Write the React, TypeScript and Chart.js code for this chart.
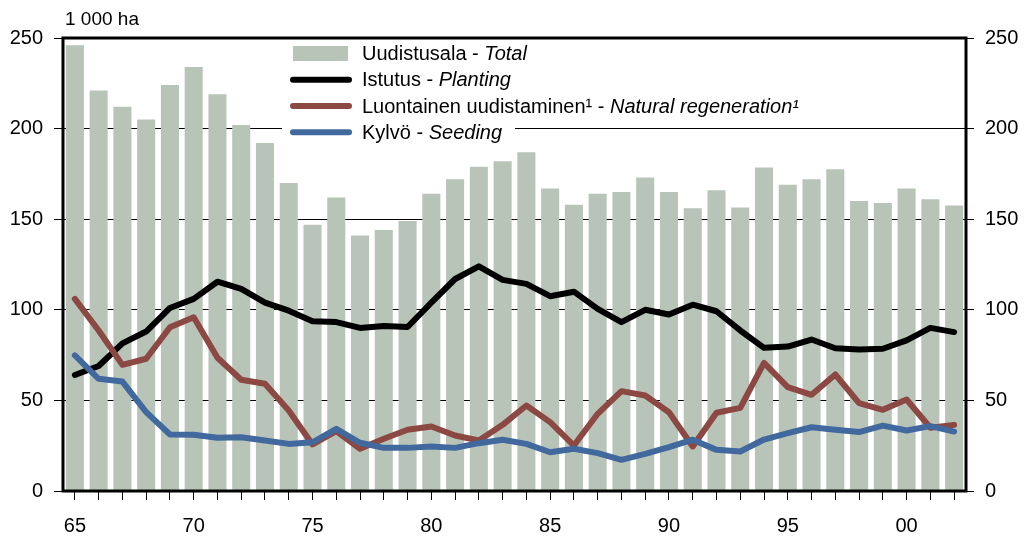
import React, { useEffect, useRef } from "react";
import { Chart, registerables } from "chart.js";

Chart.register(...registerables);

const years = [
  "65","66","67","68","69","70","71","72","73","74",
  "75","76","77","78","79","80","81","82","83","84",
  "85","86","87","88","89","90","91","92","93","94",
  "95","96","97","98","99","00","01","02",
];

const totalArea = [
  246, 221, 212, 205, 224, 234, 219, 202, 192, 170,
  147, 162, 141, 144, 149, 164, 172, 179, 182, 187,
  167, 158, 164, 165, 173, 165, 156, 166, 156.5, 178.5,
  169, 172, 177.5, 160, 159, 167, 161, 157.5,
];

const planting = [
  64, 69, 81.5, 88, 101, 106, 115.5, 111.5, 104, 99.5,
  93.7, 93.2, 90, 91, 90.5, 104, 117, 124, 116.5, 114.3,
  107.5, 110, 100.5, 93.2, 100, 97.4, 102.8, 99.2, 88.6, 79,
  79.7, 83.6, 78.8, 78.1, 78.5, 83.1, 90, 87.7,
];

const natural = [
  106, 88.6, 69.6, 73, 90.4, 95.9, 73.5, 61.4, 59.2, 44.4,
  25.7, 33, 23.3, 28.8, 33.8, 35.6, 30.6, 27.9, 36.5, 47.2,
  38, 25.1, 42.6, 55.1, 52.7, 43.5, 24.6, 43.2, 45.9, 70.7,
  57.3, 53.1, 64.3, 48.5, 44.8, 50.5, 34.9, 36.5,
];

const seeding = [
  74.8, 61.9, 60.4, 43.5, 31.2, 31, 29.4, 29.7, 27.9, 26,
  26.9, 34.3, 26.6, 23.8, 23.8, 24.6, 23.8, 26.4, 28.3, 26,
  21.4, 23.3, 20.9, 17.2, 20.5, 24.2, 28.3, 22.7, 21.8, 28.4,
  31.9, 35.2, 33.8, 32.5, 36.1, 33.4, 35.8, 32.8,
];

const yTicks = [0, 50, 100, 150, 200, 250];

const unitLabel = "1 000 ha";
const legendItems = [
  { fi: "Uudistusala - ", en: "Total", kind: "bar", color: "#B9C4B8" },
  { fi: "Istutus - ", en: "Planting", kind: "line", color: "#000000" },
  { fi: "Luontainen uudistaminen¹ - ", en: "Natural regeneration¹", kind: "line", color: "#8C4842" },
  { fi: "Kylvö - ", en: "Seeding", kind: "line", color: "#41699E" },
];

const FONT = "'Liberation Sans', Arial, sans-serif";

const decorPlugin = {
  id: "decor",
  beforeDatasetsDraw(chart: any) {
    const ctx = chart.ctx;
    ctx.save();
    ctx.fillStyle = "#ffffff";
    ctx.fillRect(282, 40, 233, 100);
    ctx.restore();
  },
  afterDraw(chart: any) {
    const ctx = chart.ctx;
    const a = chart.chartArea;
    ctx.save();
    // frame
    ctx.strokeStyle = "#000";
    ctx.lineWidth = 3;
    ctx.strokeRect(a.left, a.top, a.right - a.left, a.bottom - a.top);
    // unit label
    ctx.fillStyle = "#000";
    ctx.font = `19px ${FONT}`;
    ctx.textBaseline = "alphabetic";
    ctx.textAlign = "left";
    ctx.fillText(unitLabel, 65, 25);
    // legend
    const rowY = [53.5, 79.7, 106, 132.3];
    legendItems.forEach((it, i) => {
      const cy = rowY[i];
      if (it.kind === "bar") {
        ctx.fillStyle = it.color;
        ctx.fillRect(293, cy - 7.5, 55, 15);
      } else {
        ctx.strokeStyle = it.color;
        ctx.lineWidth = 6;
        ctx.lineCap = "round";
        ctx.beginPath();
        ctx.moveTo(293, cy);
        ctx.lineTo(349, cy);
        ctx.stroke();
      }
      ctx.fillStyle = "#000";
      ctx.textBaseline = "middle";
      ctx.font = `20px ${FONT}`;
      ctx.fillText(it.fi, 362, cy + 1);
      const w = ctx.measureText(it.fi).width;
      ctx.font = `italic 20px ${FONT}`;
      ctx.fillText(it.en, 362 + w, cy + 1);
    });
    ctx.restore();
  },
};

export default function App() {
  const ref = useRef<HTMLCanvasElement | null>(null);

  useEffect(() => {
    if (!ref.current) return;
    const chart = new Chart(ref.current, {
      type: "bar",
      data: {
        labels: years,
        datasets: [
          {
            type: "bar",
            label: "Uudistusala - Total",
            data: totalArea,
            backgroundColor: "#B9C4B8",
            barPercentage: 0.76,
            categoryPercentage: 1,
            order: 4,
            yAxisID: "y",
          },
          {
            type: "line",
            label: "Istutus - Planting",
            data: planting,
            borderColor: "#000000",
            borderWidth: 6,
            pointRadius: 0,
            tension: 0,
            borderJoinStyle: "round",
            borderCapStyle: "round",
            order: 3,
            yAxisID: "y",
          },
          {
            type: "line",
            label: "Luontainen uudistaminen¹ - Natural regeneration¹",
            data: natural,
            borderColor: "#8C4842",
            borderWidth: 6,
            pointRadius: 0,
            tension: 0,
            borderJoinStyle: "round",
            borderCapStyle: "round",
            order: 2,
            yAxisID: "y",
          },
          {
            type: "line",
            label: "Kylvö - Seeding",
            data: seeding,
            borderColor: "#41699E",
            borderWidth: 6,
            pointRadius: 0,
            tension: 0,
            borderJoinStyle: "round",
            borderCapStyle: "round",
            order: 1,
            yAxisID: "y",
          },
        ],
      },
      options: {
        responsive: false,
        animation: false,
        devicePixelRatio: 1,
        layout: { padding: { top: 38, left: 0, right: 0, bottom: 0 } },
        plugins: {
          legend: { display: false },
          tooltip: { enabled: false },
        },
        scales: {
          x: {
            type: "category",
            offset: true,
            grid: {
              offset: false,
              drawOnChartArea: false,
              drawTicks: true,
              tickLength: 9,
              color: "#000",
              tickColor: "#000",
            },
            border: { display: false },
            ticks: {
              autoSkip: false,
              maxRotation: 0,
              minRotation: 0,
              padding: 14,
              color: "#000",
              font: { family: FONT, size: 20 },
              callback: (_v: any, i: number) => (i % 5 === 0 ? years[i] : ""),
            },
            afterFit: (s: any) => {
              s.height = 50;
            },
          },
          y: {
            position: "left",
            min: 0,
            max: 250,
            afterBuildTicks: (s: any) => {
              s.ticks = yTicks.map((v) => ({ value: v }));
            },
            grid: {
              color: "#000",
              lineWidth: 1,
              drawTicks: true,
              tickLength: 9,
              tickColor: "#000",
            },
            border: { display: false },
            ticks: {
              padding: 11,
              color: "#000",
              font: { family: FONT, size: 20 },
            },
            afterFit: (s: any) => {
              s.width = 63;
            },
          },
          y2: {
            position: "right",
            min: 0,
            max: 250,
            afterBuildTicks: (s: any) => {
              s.ticks = yTicks.map((v) => ({ value: v }));
            },
            grid: {
              drawOnChartArea: false,
              drawTicks: true,
              tickLength: 8,
              tickColor: "#000",
            },
            border: { display: false },
            ticks: {
              padding: 11,
              color: "#000",
              font: { family: FONT, size: 20 },
            },
            afterFit: (s: any) => {
              s.width = 62;
            },
          },
        },
      },
      plugins: [decorPlugin],
    } as any);
    return () => chart.destroy();
  }, []);

  return (
    <div style={{ position: "absolute", left: 0, top: 0, width: 1028, height: 541, background: "#fff" }}>
      <canvas ref={ref} width={1028} height={541} style={{ display: "block" }} />
    </div>
  );
}
